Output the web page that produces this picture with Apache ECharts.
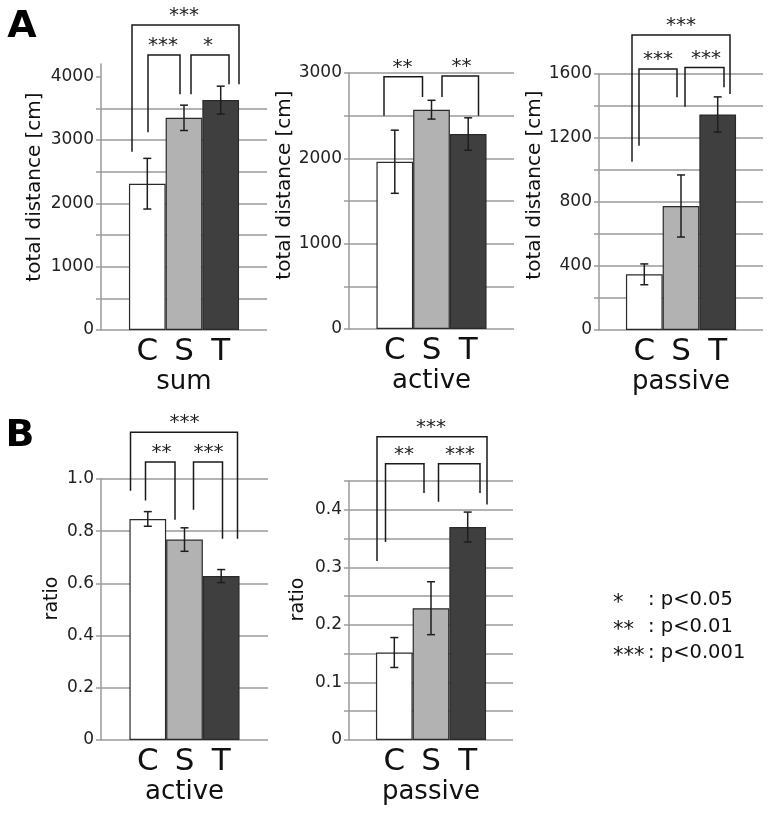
<!DOCTYPE html>
<html><head><meta charset="utf-8">
<script src="https://cdn.jsdelivr.net/npm/echarts@6/dist/echarts.min.js"></script>
<style>html,body{margin:0;padding:0;background:#fff}#c{width:769px;height:813px}</style>
</head><body><div id="c"></div>
<script>
// ---------- data ----------
const groups = ['C', 'S', 'T'];
const panelNames = ['sum', 'active', 'passive', 'active', 'passive'];

const sumMeans = [2310, 3350, 3630];
const sumErrors = [400, 200, 220];
const activeDistMeans = [1960, 2570, 2285];
const activeDistErrors = [370, 110, 190];
const passiveDistMeans = [348, 775, 1347];
const passiveDistErrors = [65, 194, 110];
const activeRatioMeans = [0.847, 0.768, 0.628];
const activeRatioErrors = [0.028, 0.045, 0.025];
const passiveRatioMeans = [0.152, 0.229, 0.370];
const passiveRatioErrors = [0.026, 0.046, 0.026];

const yMax = [4200, 3000, 1600, 1.0, 0.45];
const yStep = [500, 500, 200, 0.2, 0.05];
const yLabelStep = [1000, 1000, 400, 0.2, 0.1];
const sumTickValues = [0, 500, 1000, 1500, 2000, 2500, 3000, 3500, 4000];
const yNames = ['total distance [cm]', 'total distance [cm]', 'total distance [cm]', 'ratio', 'ratio'];

// significance brackets: [label, bracket top, left leg end, right leg end] (data units)
const sumSig = [['***', 4816, 2815, 3879], ['***', 4342, 3121, 3722], ['*', 4342, 3722, 3879]];
const activeDistSig = [['**', 2955, 2500, 2719], ['**', 2965, 2719, 2500]];
const passiveDistSig = [['***', 1844, 1052, 1475], ['***', 1631, 1152, 1454], ['***', 1640, 1396, 1517]];
const activeRatioSig = [['***', 1.179, 0.955, 0.771], ['**', 1.065, 0.918, 0.844], ['***', 1.065, 0.882, 0.771]];
const passiveRatioSig = [['***', 0.527, 0.311, 0.409], ['**', 0.48, 0.344, 0.429], ['***', 0.48, 0.414, 0.429]];

const legendStars = ['*', '**', '***'];
const legendTexts = [': p<0.05', ': p<0.01', ': p<0.001'];

// ---------- styling ----------
const F = "'DejaVu Sans', sans-serif";
const means = [sumMeans, activeDistMeans, passiveDistMeans, activeRatioMeans, passiveRatioMeans];
const errors = [sumErrors, activeDistErrors, passiveDistErrors, activeRatioErrors, passiveRatioErrors];
const sigs = [sumSig, activeDistSig, passiveDistSig, activeRatioSig, passiveRatioSig];
const grids = [
  {left: 101, top: 64, width: 166, height: 266},
  {left: 349, top: 73, width: 165, height: 256},
  {left: 599, top: 74, width: 164, height: 256},
  {left: 101, top: 479, width: 167, height: 261},
  {left: 349, top: 481, width: 164, height: 259}
];
// bracket pixel offsets from panel centre: [left leg, right leg, label]
const sigOffsets = [
  [[-52, 55, 0], [-36, -4, -21], [7, 45, 24]],
  [[-47.5, -9, -29], [10.5, 47, 30]],
  [[-49, 49, 0], [-42, -4, -23], [4, 43, 25]],
  [[-54, 53, 0], [-39, -9.5, -23], [9, 38, 24]],
  [[-54, 56, 0], [-45.5, -7, -27], [7.5, 49, 29]]
];
const nameGaps = [56, 54, 50, 39, 41];
const nameShift = [20, 32, 34, 22, 22];
const barColors = ['#ffffff', '#b2b2b2', '#3f3f3f'];
const BAR_W = 36.7;
const GRID_C = '#9a9a9a';

const chart = echarts.init(document.getElementById('c'), null, {renderer: 'canvas'});

const xAxis = [], yAxis = [], series = [];
panelNames.forEach((pn, p) => {
  xAxis.push({
    type: 'category', gridIndex: p, data: [pn],
    axisLine: {show: false}, axisTick: {show: false},
    axisLabel: {fontSize: 26, margin: 39, color: '#111', fontFamily: F}
  });
  const tick = {show: true, length: 5, lineStyle: {color: GRID_C, width: 1.5}};
  if (p === 0) tick.customValues = sumTickValues;
  yAxis.push({
    type: 'value', gridIndex: p, min: 0, max: yMax[p], interval: yStep[p],
    name: yNames[p], nameLocation: 'middle', nameGap: nameGaps[p],
    nameTextStyle: {fontSize: p < 3 ? 20 : 19, fontFamily: F, color: '#111', padding: [0, 0, 0, nameShift[p]]},
    axisLine: {show: true, lineStyle: {color: GRID_C, width: 1.5}},
    axisTick: tick,
    axisLabel: {
      fontSize: 17, margin: 7, color: '#222', fontFamily: F,
      formatter: v => {
        const r = v / yLabelStep[p];
        if (Math.abs(r - Math.round(r)) > 1e-6) return '';
        if (p >= 3) return v === 0 ? '0' : v.toFixed(1);
        return String(Math.round(v));
      }
    },
    splitLine: {show: true, showMaxLine: p !== 0, lineStyle: {color: GRID_C, width: 1.5}}
  });
  groups.forEach((g, i) => {
    series.push({
      type: 'bar', name: g, xAxisIndex: p, yAxisIndex: p,
      data: [means[p][i]], barWidth: BAR_W, barGap: '0%',
      itemStyle: {color: barColors[i], borderColor: '#2a2a2a', borderWidth: 1.2},
      label: {show: true, position: 'bottom', distance: 6, formatter: g,
        fontSize: 31, color: '#111', fontFamily: F},
      silent: true
    });
  });
  // error bars
  series.push({
    type: 'custom', xAxisIndex: p, yAxisIndex: p, z: 5, clip: false, silent: true,
    data: groups.map((g, i) => [0, means[p][i], errors[p][i], i]),
    encode: {x: 0, y: 1},
    renderItem: (params, api) => {
      const v = api.value(1), e = api.value(2), i = api.value(3);
      const t = api.coord([0, v + e]), b = api.coord([0, v - e]);
      const x = t[0] + (i - 1) * BAR_W;
      const st = {stroke: '#1e1e1e', lineWidth: 1.5};
      return {type: 'group', children: [
        {type: 'line', shape: {x1: x, y1: t[1], x2: x, y2: b[1]}, style: st},
        {type: 'line', shape: {x1: x - 4, y1: t[1], x2: x + 4, y2: t[1]}, style: st},
        {type: 'line', shape: {x1: x - 4, y1: b[1], x2: x + 4, y2: b[1]}, style: st}
      ]};
    }
  });
  // significance brackets
  series.push({
    type: 'custom', xAxisIndex: p, yAxisIndex: p, z: 6, clip: false, silent: true,
    data: sigs[p].map(s => [0, s[1], s[2], s[3]]),
    encode: {x: 0, y: 1},
    renderItem: (params, api) => {
      const k = params.dataIndex;
      const o = sigOffsets[p][k];
      const c = api.coord([0, api.value(1)]);
      const yl = api.coord([0, api.value(2)])[1];
      const yr = api.coord([0, api.value(3)])[1];
      const xL = c[0] + o[0], xR = c[0] + o[1];
      return {type: 'group', children: [
        {type: 'polyline', shape: {points: [[xL, yl], [xL, c[1]], [xR, c[1]], [xR, yr]]},
          style: {stroke: '#1a1a1a', lineWidth: 1.5, fill: 'none'}},
        {type: 'text', x: c[0] + o[2], y: c[1] - 9,
          style: {text: sigs[p][k][0], fontSize: 20, fontFamily: F, fill: '#222', align: 'center', verticalAlign: 'middle'}}
      ]};
    }
  });
});

const graphic = [
  {type: 'text', x: 22, y: 27, style: {text: 'A', fontSize: 38, fontWeight: 'bold', fontFamily: F, fill: '#000', align: 'center', verticalAlign: 'middle'}},
  {type: 'text', x: 20, y: 436, style: {text: 'B', fontSize: 38, fontWeight: 'bold', fontFamily: F, fill: '#000', align: 'center', verticalAlign: 'middle'}}
];
const legendY = [600, 627, 653];
legendStars.forEach((s, i) => {
  graphic.push({type: 'text', x: 613, y: legendY[i] + 4, style: {text: s, fontSize: 21, fontFamily: F, fill: '#111', align: 'left', verticalAlign: 'middle'}});
  graphic.push({type: 'text', x: 648, y: legendY[i], style: {text: legendTexts[i], fontSize: 19.5, fontFamily: F, fill: '#111', align: 'left', verticalAlign: 'middle'}});
});

chart.setOption({
  animation: false,
  backgroundColor: '#fff',
  grid: grids,
  xAxis: xAxis,
  yAxis: yAxis,
  series: series,
  graphic: graphic
});
</script></body></html>
